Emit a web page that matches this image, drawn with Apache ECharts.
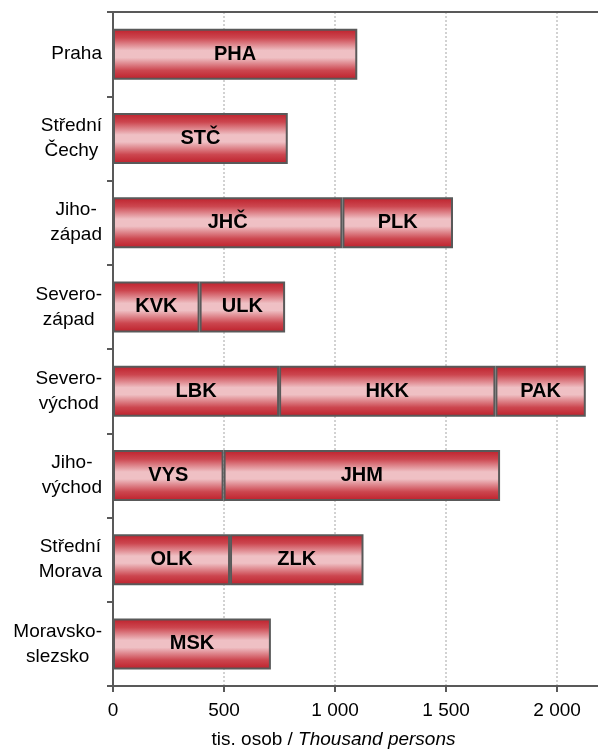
<!DOCTYPE html>
<html>
<head>
<meta charset="utf-8">
<script src="https://cdn.jsdelivr.net/npm/echarts@6/dist/echarts.min.js"></script>
<style>
  html, body { margin: 0; padding: 0; background: #fff; }
  #chart { width: 598px; height: 751px; }
</style>
</head>
<body>
<div id="chart"></div>
<script>
// Categories (regions of cohesion)
const categories = ['Praha', 'Střední\nČechy', 'Jiho-\nzápad', 'Severo-\nzápad', 'Severo-\nvýchod', 'Jiho-\nvýchod', 'Střední\nMorava', 'Moravsko-\nslezsko'];

// Segment 1 (first region in each cohesion region)
const seg1Values = [1100, 787, 1033, 390, 748, 498, 527, 711];
const seg1Labels = ['PHA', 'STČ', 'JHČ', 'KVK', 'LBK', 'VYS', 'OLK', 'MSK'];

// Segment 2
const seg2Values = [null, null, 498, 385, 974, 1245, 601, null];
const seg2Labels = ['', '', 'PLK', 'ULK', 'HKK', 'JHM', 'ZLK', ''];

// Segment 3
const seg3Values = [null, null, null, null, 407, null, null, null];
const seg3Labels = ['', '', '', '', 'PAK', '', '', ''];

// Axis ticks
const xTicks = [0, 500, 1000, 1500, 2000];
const xTickLabels = ['0', '500', '1 000', '1 500', '2 000'];

const FONT = '"Liberation Sans", Arial, sans-serif';
const AXIS_COLOR = '#595959';

const barGradient = {
  type: 'linear', x: 0, y: 0, x2: 0, y2: 1,
  colorStops: [
    { offset: 0, color: '#bd1f2a' },
    { offset: 0.18, color: '#cc464f' },
    { offset: 0.43, color: '#efc0c4' },
    { offset: 0.57, color: '#efc0c4' },
    { offset: 0.82, color: '#cc464f' },
    { offset: 1, color: '#bd1f2a' }
  ]
};

function makeSeries(values, labels) {
  return {
    type: 'bar',
    stack: 'total',
    barWidth: 51,
    data: values,
    itemStyle: { color: barGradient, borderColor: AXIS_COLOR, borderWidth: 2 },
    label: {
      show: true,
      position: 'inside',
      fontFamily: FONT,
      fontSize: 20,
      fontWeight: 'bold',
      color: '#000',
      formatter: p => labels[p.dataIndex]
    },
    emphasis: { disabled: true },
    animation: false
  };
}

const chart = echarts.init(document.getElementById('chart'));
chart.setOption({
  animation: false,
  backgroundColor: '#fff',
  grid: { left: 113, width: 493, top: 12, bottom: 65, containLabel: false, outerBoundsMode: 'none' },
  xAxis: [{
    type: 'value',
    min: 0,
    max: 2220,
    interval: 500,
    position: 'bottom',
    axisLine: { show: true, lineStyle: { color: AXIS_COLOR, width: 2 } },
    axisTick: { show: true, length: 6, lineStyle: { color: AXIS_COLOR, width: 2 } },
    splitLine: { show: true, lineStyle: { color: '#c4c4c4', type: [2, 2], width: 1.5 } },
    showMaxLabel: false,
    axisLabel: {
      margin: 15,
      fontFamily: FONT,
      fontSize: 19,
      color: '#000',
      formatter: v => { const i = xTicks.indexOf(v); return i >= 0 ? xTickLabels[i] : ''; }
    },
    name: '{n|tis. osob / }{i|Thousand persons}',
    nameLocation: 'middle',
    nameGap: 44,
    nameTextStyle: {
      padding: [0, 52, 0, 0],
      rich: {
        n: { fontFamily: FONT, fontSize: 19, color: '#000' },
        i: { fontFamily: FONT, fontSize: 19, color: '#000', fontStyle: 'italic' }
      }
    }
  }, {
    type: 'value',
    min: 0,
    max: 2220,
    position: 'top',
    axisLine: { show: true, lineStyle: { color: AXIS_COLOR, width: 2 } },
    axisTick: { show: false },
    axisLabel: { show: false },
    splitLine: { show: false }
  }],
  yAxis: {
    type: 'category',
    inverse: true,
    data: categories,
    axisLine: { show: true, lineStyle: { color: AXIS_COLOR, width: 2 } },
    axisTick: { show: true, length: 6, lineStyle: { color: AXIS_COLOR, width: 2 } },
    axisLabel: {
      margin: 11,
      align: 'right',
      formatter: v => v.split('\n').map(s => '{c|' + s + '}').join('\n'),
      rich: {
        c: { align: 'center', fontFamily: FONT, fontSize: 19, lineHeight: 25, color: '#000' }
      }
    }
  },
  series: [
    makeSeries(seg1Values, seg1Labels),
    makeSeries(seg2Values, seg2Labels),
    makeSeries(seg3Values, seg3Labels)
  ]
});
</script>
</body>
</html>
